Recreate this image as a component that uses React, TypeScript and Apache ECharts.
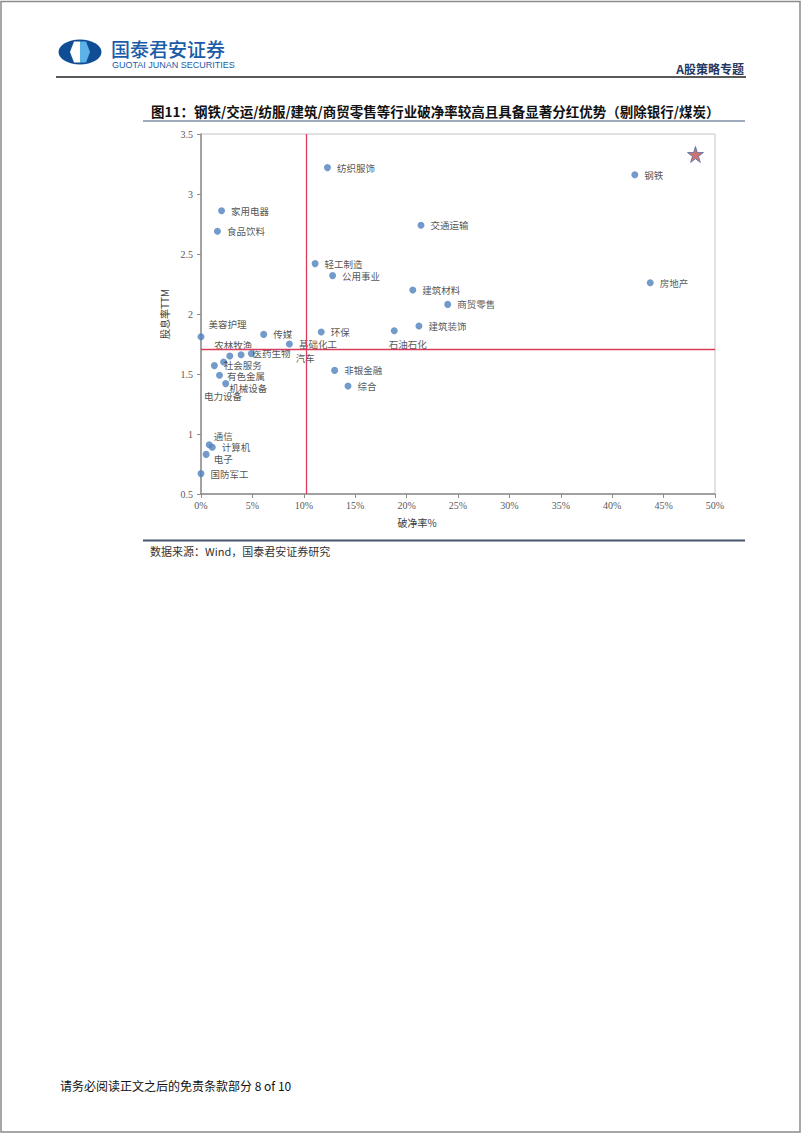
import React, { useEffect, useRef } from "react";
import * as echarts from "echarts";

// ---- data ----
const industries = [
  "纺织服饰", "家用电器", "食品饮料", "交通运输", "轻工制造", "公用事业", "建筑材料", "商贸零售",
  "钢铁", "房地产", "美容护理", "传媒", "基础化工", "环保", "石油石化", "建筑装饰",
  "农林牧渔", "医药生物", "汽车", "电力设备", "社会服务", "有色金属", "机械设备",
  "非银金融", "综合", "通信", "计算机", "电子", "国防军工",
];
const pbBreakRatio = [
  12.3, 2.0, 1.6, 21.4, 11.1, 12.8, 20.6, 24.0,
  42.2, 43.7, 0.0, 6.1, 8.6, 11.7, 18.8, 21.2,
  2.8, 3.9, 4.9, 2.2, 1.3, 1.8, 2.4,
  13.0, 14.3, 0.8, 1.1, 0.5, 0.0,
];
const dividendYield = [
  3.22, 2.86, 2.69, 2.74, 2.42, 2.32, 2.20, 2.08,
  3.16, 2.26, 1.81, 1.83, 1.75, 1.85, 1.86, 1.90,
  1.65, 1.66, 1.67, 1.60, 1.57, 1.49, 1.42,
  1.53, 1.40, 0.91, 0.89, 0.83, 0.67,
];
const avgPbBreak = 10.27;
const avgDividend = 1.71;
const highlightPoint = [48.1, 3.33];
const xTickMin = 0;
const xTickMax = 50;
const xTickStep = 5;
const yTickMin = 0.5;
const yTickMax = 3.5;
const yTickStep = 0.5;

// ---- label layout (style only) ----
const labelOffsets: Record<string, [number, number]> = {
  美容护理: [-2, -13],
  石油石化: [-15, 13],
  农林牧渔: [-25, -11],
  医药生物: [2, -2],
  汽车: [35, 4],
  电力设备: [-29, 34],
  社会服务: [0, -1],
  有色金属: [-2, 1],
  机械设备: [-6, 4],
  通信: [-5, -9],
  计算机: [0, 0],
  电子: [-2, 5],
};

const STAR =
  "path://M50,0 L61,35 L98,35 L68,57 L79,91 L50,70 L21,91 L32,57 L2,35 L39,35 Z";
const CJK = "'Noto Sans CJK SC', sans-serif";
const SERIF = "'Liberation Serif', 'DejaVu Serif', serif";
const RED = "#dc3c5a";

export default function App() {
  const ref = useRef<HTMLDivElement>(null);

  useEffect(() => {
    if (!ref.current) return;
    const chart = echarts.init(ref.current, undefined, { renderer: "svg" });

    const points = industries.map((name, i) => {
      const off = labelOffsets[name];
      return {
        name,
        value: [pbBreakRatio[i], dividendYield[i]],
        label: off ? { offset: off } : undefined,
      };
    });

    const option: any = {
      animation: false,
      backgroundColor: "#ffffff",
      grid: {
        left: 201,
        top: 134,
        width: 514,
        height: 360,
        show: true,
        borderColor: "#c4c4c4",
        borderWidth: 1,
        backgroundColor: "transparent",
      },
      xAxis: {
        type: "value",
        min: xTickMin,
        max: xTickMax,
        interval: xTickStep,
        name: "破净率%",
        nameLocation: "middle",
        nameGap: 23,
        nameTextStyle: {
          fontFamily: CJK,
          fontSize: 10,
          color: "#404040",
          padding: [0, 82, 0, 0],
        },
        axisLine: { show: true, lineStyle: { color: "#8c8c8c", width: 1.5 } },
        axisTick: { show: true, length: 4, lineStyle: { color: "#8c8c8c" } },
        splitLine: { show: false },
        axisLabel: {
          formatter: "{value}%",
          fontFamily: SERIF,
          fontSize: 10,
          color: "#595959",
          margin: 6,
        },
      },
      yAxis: {
        type: "value",
        min: yTickMin,
        max: yTickMax,
        interval: yTickStep,
        name: "股息率TTM",
        nameLocation: "middle",
        nameGap: 17,
        nameTextStyle: { fontFamily: CJK, fontSize: 10, color: "#404040" },
        axisLine: { show: true, lineStyle: { color: "#8c8c8c", width: 1.5 } },
        axisTick: { show: true, length: 4, lineStyle: { color: "#8c8c8c" } },
        splitLine: { show: false },
        axisLabel: {
          fontFamily: SERIF,
          fontSize: 10,
          color: "#595959",
          margin: 8,
        },
      },
      series: [
        {
          type: "scatter",
          symbol: "circle",
          symbolSize: 7,
          clip: false,
          itemStyle: { color: "#4f81bd" },
          label: {
            show: true,
            position: "right",
            distance: 6,
            formatter: "{b}",
            fontFamily: CJK,
            fontSize: 9.5,
            color: "#262626",
          },
          data: points,
          markLine: {
            silent: true,
            symbol: "none",
            label: { show: false },
            lineStyle: { color: RED, width: 1.3, type: "solid", opacity: 1 },
            data: [
              [
                { coord: [avgPbBreak, yTickMin] },
                { coord: [avgPbBreak, yTickMax] },
              ],
              [
                { coord: [xTickMin, avgDividend] },
                { coord: [xTickMax, avgDividend] },
              ],
            ],
          },
        },
        {
          type: "scatter",
          symbol: STAR,
          symbolSize: 16,
          clip: false,
          itemStyle: { color: "#c0504d", borderColor: "#4f6fa8", borderWidth: 1 },
          data: [highlightPoint],
        },
      ],
      graphic: [
        {
          type: "rect",
          shape: { x: 1, y: 1.5, width: 799, height: 1130.5 },
          style: { fill: "none", stroke: "#8a8a8a", lineWidth: 1.5 },
          silent: true,
        },
        // logo
        {
          type: "ellipse",
          shape: { cx: 80, cy: 52, rx: 21.5, ry: 12.5 },
          style: { fill: "#0f4e95" },
        },
        {
          type: "polygon",
          shape: {
            points: [
              [74, 41.5], [80, 41.5], [80, 62.5], [74, 62.5], [70, 52],
            ],
          },
          style: { fill: "#ffffff" },
        },
        {
          type: "polygon",
          shape: {
            points: [
              [80, 41.5], [86, 41.5], [90, 52], [86, 62.5], [80, 62.5],
            ],
          },
          style: { fill: "#5db2e8" },
        },
        {
          type: "text",
          x: 111,
          y: 48,
          style: {
            text: "国泰君安证券",
            fontFamily: CJK,
            fontSize: 19,
            fontWeight: 500,
            fill: "#1a5ca8",
            verticalAlign: "middle",
          },
        },
        {
          type: "text",
          x: 112,
          y: 64.5,
          style: {
            text: "GUOTAI JUNAN SECURITIES",
            fontFamily: "'Liberation Sans', Arial, sans-serif",
            fontSize: 9,
            fill: "#1a5ca8",
            verticalAlign: "middle",
          },
        },
        {
          type: "text",
          x: 744,
          y: 68,
          style: {
            text: "A股策略专题",
            fontFamily: CJK,
            fontSize: 12,
            fontWeight: "bold",
            fill: "#1f3864",
            align: "right",
            verticalAlign: "middle",
          },
        },
        {
          type: "line",
          shape: { x1: 56, y1: 77, x2: 746, y2: 77 },
          style: { stroke: "#222222", lineWidth: 1.5 },
        },
        {
          type: "text",
          x: 151,
          y: 111,
          style: {
            text: "图11：钢铁/交运/纺服/建筑/商贸零售等行业破净率较高且具备显著分红优势（剔除银行/煤炭）",
            fontFamily: CJK,
            fontSize: 13.5,
            fontWeight: "bold",
            fill: "#111111",
            verticalAlign: "middle",
          },
        },
        {
          type: "line",
          shape: { x1: 143, y1: 121, x2: 745, y2: 121 },
          style: { stroke: "#7f8fa6", lineWidth: 1.5 },
        },
        {
          type: "line",
          shape: { x1: 143, y1: 540.5, x2: 745, y2: 540.5 },
          style: { stroke: "#44546a", lineWidth: 2 },
        },
        {
          type: "text",
          x: 150,
          y: 551,
          style: {
            text: "数据来源：Wind，国泰君安证券研究",
            fontFamily: CJK,
            fontSize: 11,
            fill: "#333333",
            verticalAlign: "middle",
          },
        },
        {
          type: "text",
          x: 60,
          y: 1085,
          style: {
            text: "请务必阅读正文之后的免责条款部分 8 of 10",
            fontFamily: CJK,
            fontSize: 12,
            fill: "#111111",
            verticalAlign: "middle",
          },
        },
      ],
    };

    chart.setOption(option);
    return () => chart.dispose();
  }, []);

  return (
    <div
      ref={ref}
      style={{ position: "absolute", left: 0, top: 0, width: 802, height: 1133 }}
    />
  );
}
